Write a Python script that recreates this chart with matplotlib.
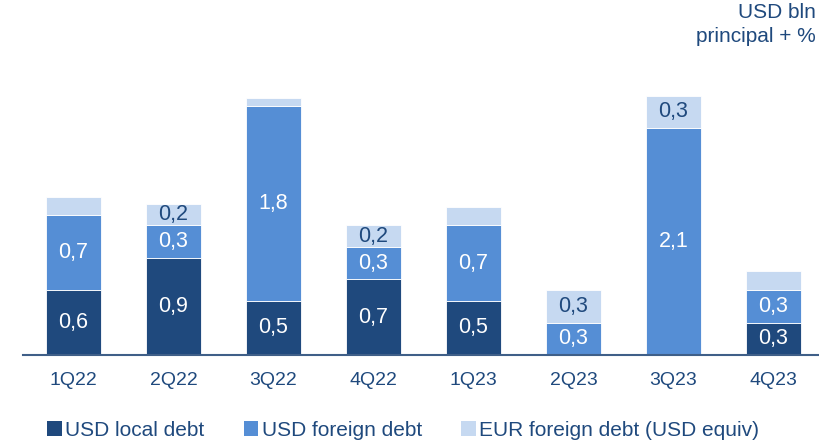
import numpy as np
import matplotlib
matplotlib.use("Agg")
import matplotlib.pyplot as plt
from matplotlib.patches import Patch

plt.rcParams['font.family'] = ['Liberation Sans', 'DejaVu Sans']

quarters = ['1Q22', '2Q22', '3Q22', '4Q22', '1Q23', '2Q23', '3Q23', '4Q23']
usd_local = [0.6, 0.9, 0.5, 0.7, 0.5, 0.0, 0.0, 0.3]
usd_foreign = [0.7, 0.3, 1.8, 0.3, 0.7, 0.3, 2.1, 0.3]
eur_foreign = [0.16, 0.2, 0.08, 0.2, 0.17, 0.3, 0.3, 0.18]
series_names = ['USD local debt', 'USD foreign debt', 'EUR foreign debt (USD equiv)']

navy = '#1f497d'
colors = ['#1f497d', '#558ed5', '#c6d9f1']
label_colors = ['white', 'white', navy]

fig = plt.figure(figsize=(8.2, 4.44), dpi=100)
ax = fig.add_axes([23 / 820, 89 / 444, 797 / 820, 295 / 444])

x = np.arange(len(quarters))
bottom = np.zeros(len(quarters))
for vals, col, lc in zip([usd_local, usd_foreign, eur_foreign], colors, label_colors):
    vals = np.array(vals)
    ax.bar(x, vals, width=0.55, bottom=bottom, color=col,
           edgecolor='white', linewidth=0.6)
    for xi, b, v in zip(x, bottom, vals):
        if v >= 0.195:
            ax.text(xi, b + v / 2, f'{v:.1f}'.replace('.', ','),
                    ha='center', va='center', color=lc, fontsize=15.5)
    bottom += vals

ax.set_xlim(-0.505, 7.465)
ax.set_ylim(0, 2.73)
ax.set_xticks(x)
ax.set_xticklabels(quarters, fontsize=14, color=navy)
ax.tick_params(axis='x', length=0, pad=12)
ax.set_yticks([])
for s in ['top', 'right', 'left']:
    ax.spines[s].set_visible(False)
ax.spines['bottom'].set_color('#3f5f88')
ax.spines['bottom'].set_linewidth(1.5)

fig.text(816 / 820, 1 - 3 / 444, 'USD bln\nprincipal + %', ha='right', va='top',
         fontsize=15, color=navy, linespacing=1.3)

handles = [Patch(facecolor=c, edgecolor='none') for c in colors]
fig.legend(handles, series_names, loc='center left', bbox_to_anchor=(39 / 820, 1 - 430 / 444),
           ncol=3, frameon=False, fontsize=15, handlelength=0.7, handleheight=0.7,
           handletextpad=0.15, columnspacing=1.9, labelcolor=navy, borderaxespad=0)

fig.savefig('out.png', dpi=100)
